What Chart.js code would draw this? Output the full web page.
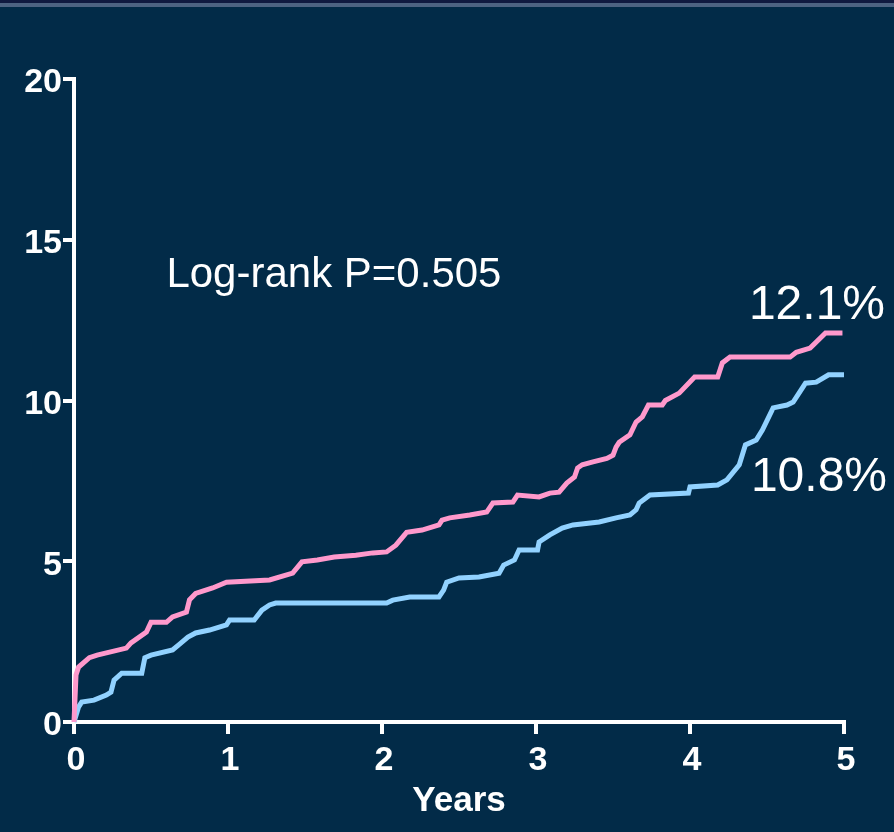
<!DOCTYPE html>
<html>
<head>
<meta charset="utf-8">
<script src="https://cdn.jsdelivr.net/npm/chart.js@4"></script>
<style>
  html, body { margin: 0; padding: 0; }
  body {
    width: 894px; height: 832px; overflow: hidden;
    background: linear-gradient(to bottom, #101a40 0px, #101a40 3px, #4d6382 3px, #4d6382 7px, #022b48 7px);
  }
  #wrap { position: absolute; left: 0; top: 0; width: 894px; height: 832px; }
</style>
</head>
<body>
<div id="wrap"><canvas id="c" width="894" height="832"></canvas></div>
<script>
// Cumulative incidence (%) by years of follow-up
const pinkYears = [0, 0.013, 0.03, 0.10, 0.15, 0.34, 0.37, 0.47, 0.50, 0.60, 0.64, 0.73, 0.75, 0.79, 0.90, 0.99, 1.27, 1.42, 1.48, 1.58, 1.69, 1.83, 1.94, 2.03, 2.09, 2.16, 2.26, 2.37, 2.39, 2.44, 2.57, 2.68, 2.72, 2.85, 2.88, 3.02, 3.09, 3.15, 3.20, 3.25, 3.27, 3.30, 3.37, 3.46, 3.50, 3.52, 3.54, 3.61, 3.65, 3.69, 3.73, 3.82, 3.84, 3.93, 4.03, 4.18, 4.21, 4.26, 4.65, 4.69, 4.78, 4.88, 4.99];
const pinkValues = [0, 1.46, 1.71, 2.00, 2.08, 2.30, 2.46, 2.80, 3.10, 3.10, 3.27, 3.42, 3.80, 4.00, 4.17, 4.35, 4.42, 4.63, 4.98, 5.04, 5.13, 5.19, 5.26, 5.29, 5.50, 5.90, 5.97, 6.13, 6.28, 6.35, 6.44, 6.53, 6.81, 6.84, 7.06, 7.00, 7.12, 7.15, 7.43, 7.62, 7.90, 8.00, 8.09, 8.20, 8.30, 8.55, 8.70, 8.93, 9.33, 9.49, 9.86, 9.86, 10.00, 10.23, 10.73, 10.73, 11.17, 11.35, 11.35, 11.50, 11.63, 12.10, 12.10];

const blueYears = [0, 0.013, 0.03, 0.05, 0.13, 0.21, 0.24, 0.26, 0.31, 0.44, 0.46, 0.50, 0.64, 0.68, 0.74, 0.79, 0.88, 0.99, 1.01, 1.17, 1.22, 1.27, 1.31, 2.03, 2.07, 2.18, 2.37, 2.40, 2.42, 2.50, 2.63, 2.76, 2.79, 2.86, 2.89, 3.01, 3.02, 3.09, 3.17, 3.24, 3.41, 3.52, 3.61, 3.65, 3.67, 3.74, 3.99, 4.00, 4.18, 4.24, 4.32, 4.36, 4.43, 4.47, 4.54, 4.63, 4.67, 4.73, 4.75, 4.82, 4.90, 5.00];
const blueValues = [0, 0.20, 0.47, 0.62, 0.68, 0.84, 0.93, 1.30, 1.52, 1.52, 2.00, 2.08, 2.24, 2.40, 2.64, 2.77, 2.86, 3.02, 3.17, 3.17, 3.48, 3.64, 3.70, 3.70, 3.79, 3.89, 3.89, 4.10, 4.35, 4.48, 4.51, 4.63, 4.88, 5.04, 5.35, 5.35, 5.60, 5.82, 6.03, 6.13, 6.22, 6.35, 6.44, 6.60, 6.81, 7.06, 7.12, 7.31, 7.37, 7.53, 8.00, 8.62, 8.77, 9.08, 9.77, 9.86, 9.95, 10.39, 10.54, 10.57, 10.80, 10.80];

const xTicks = [0, 1, 2, 3, 4, 5];
const yTicks = [0, 5, 10, 15, 20];
const xTitle = 'Years';
const pValueText = 'Log-rank P=0.505';
const pinkEndLabel = '12.1%';
const blueEndLabel = '10.8%';

const toPoints = (xs, ys) => xs.map((x, i) => ({ x: x, y: ys[i] }));

const FONT = "'Liberation Sans', Arial, sans-serif";

// Free text placed in data coordinates
const annotations = {
  id: 'annotations',
  afterDatasetsDraw(chart) {
    const { ctx, scales: { x, y } } = chart;
    ctx.save();
    ctx.fillStyle = '#ffffff';
    ctx.textBaseline = 'middle';
    ctx.font = '42px ' + FONT;
    ctx.textAlign = 'left';
    ctx.fillText(pValueText, x.getPixelForValue(0.6), y.getPixelForValue(13.9));
    ctx.font = '48px ' + FONT;
    ctx.textAlign = 'right';
    ctx.fillText(pinkEndLabel, x.getPixelForValue(5) + 41, y.getPixelForValue(12.95));
    ctx.fillText(blueEndLabel, x.getPixelForValue(5) + 43, y.getPixelForValue(7.6));
    ctx.restore();
  }
};

new Chart(document.getElementById('c'), {
  type: 'line',
  data: {
    datasets: [
      {
        data: toPoints(pinkYears, pinkValues),
        borderColor: '#ff99cc',
        borderWidth: 5,
        pointRadius: 0,
        tension: 0,
        clip: false
      },
      {
        data: toPoints(blueYears, blueValues),
        borderColor: '#92d2ff',
        borderWidth: 5,
        pointRadius: 0,
        tension: 0,
        clip: false
      }
    ]
  },
  options: {
    responsive: false,
    animation: false,
    events: [],
    layout: { padding: { top: 79, right: 50, left: 0, bottom: 0 } },
    plugins: { legend: { display: false }, tooltip: { enabled: false } },
    scales: {
      x: {
        type: 'linear',
        min: 0, max: 5,
        afterBuildTicks: s => { s.ticks = xTicks.map(v => ({ value: v })); },
        afterFit: s => { s.height = 110; },
        border: { color: '#ffffff', width: 4 },
        grid: { display: true, drawOnChartArea: false, drawTicks: true, tickLength: 12, color: '#ffffff', lineWidth: 4 },
        ticks: { color: '#ffffff', font: { family: FONT, size: 34, weight: 'bold' }, padding: 6, maxRotation: 0, labelOffset: 2 },
        title: { display: true, text: xTitle, color: '#ffffff', font: { family: FONT, size: 35, weight: 'bold' }, padding: { top: 0, bottom: 10 } }
      },
      y: {
        type: 'linear',
        min: 0, max: 20,
        afterBuildTicks: s => { s.ticks = yTicks.map(v => ({ value: v })); },
        afterFit: s => { s.width = 74; },
        border: { color: '#ffffff', width: 4 },
        grid: { display: true, drawOnChartArea: false, drawTicks: true, tickLength: 11, color: '#ffffff', lineWidth: 4 },
        ticks: { color: '#ffffff', font: { family: FONT, size: 34, weight: 'bold' }, padding: 1, labelOffset: 4 }
      }
    }
  },
  plugins: [annotations]
});
</script>
</body>
</html>
